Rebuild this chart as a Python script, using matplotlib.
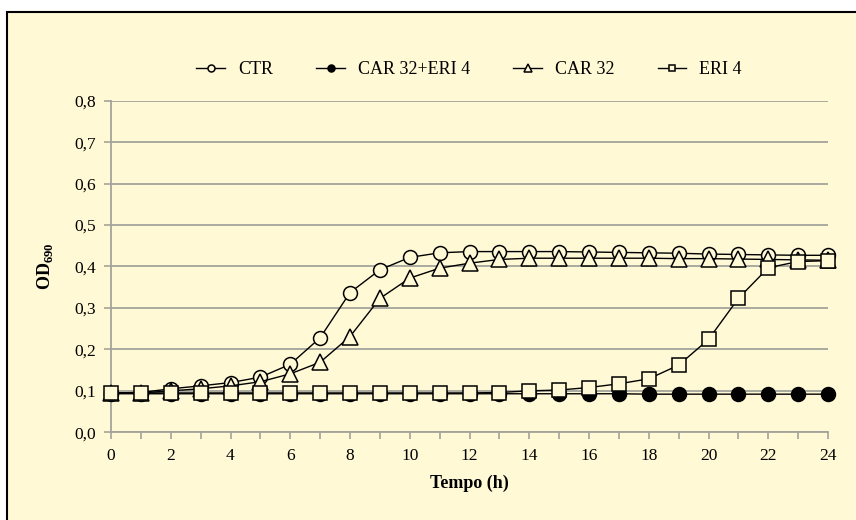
import matplotlib.pyplot as plt
from matplotlib.patches import Rectangle
import numpy as np

# growth curves, OD690 read every hour
tempo = list(range(25))
ctr = [0.095, 0.096, 0.105, 0.112, 0.120, 0.133, 0.164, 0.228, 0.337, 0.392, 0.422, 0.433,
       0.436, 0.436, 0.436, 0.436, 0.435, 0.434, 0.433, 0.432, 0.430, 0.429, 0.428, 0.427, 0.427]
car_eri = [0.093, 0.093, 0.093, 0.093, 0.093, 0.093, 0.093, 0.093, 0.093, 0.093, 0.093, 0.093,
           0.093, 0.093, 0.093, 0.093, 0.093, 0.093, 0.092, 0.092, 0.092, 0.092, 0.092, 0.092, 0.092]
car32 = [0.095, 0.095, 0.100, 0.105, 0.112, 0.122, 0.141, 0.169, 0.231, 0.323, 0.372, 0.396,
         0.408, 0.417, 0.420, 0.420, 0.420, 0.420, 0.420, 0.419, 0.419, 0.418, 0.417, 0.416, 0.415]
eri4 = [0.095, 0.095, 0.095, 0.095, 0.095, 0.095, 0.095, 0.095, 0.095, 0.095, 0.095, 0.095,
        0.095, 0.096, 0.100, 0.102, 0.108, 0.117, 0.129, 0.162, 0.224, 0.323, 0.397, 0.412, 0.414]

bg = '#FFF9D6'
grid_col = '#A3A39A'

plt.rcParams['font.family'] = ['Liberation Serif', 'DejaVu Serif']
plt.rcParams['mathtext.fontset'] = 'custom'
plt.rcParams['mathtext.bf'] = 'Liberation Serif:bold'

fig = plt.figure(figsize=(8.56, 5.2), dpi=100)
fig.patch.set_facecolor('white')
# yellow panel with black frame (top and left edges visible)
fig.patches.append(Rectangle((7 / 856, -0.1), 1.2, 1 - 11.5 / 520 + 0.1, transform=fig.transFigure,
                             facecolor=bg, edgecolor='black', linewidth=1.5, zorder=-1))

ax = fig.add_axes([111 / 856, 1 - 432.3 / 520, (828 - 111) / 856, (432.3 - 100.7) / 520])
ax.set_facecolor('none')
ax.set_zorder(2)

style = dict(color='black', lw=1, mew=1.1, zorder=3, clip_on=False)
ax.plot(tempo, ctr, '-o', ms=10, mfc=bg, label='CTR', **style)
ax.plot(tempo, car_eri, '-o', ms=10, mfc='black', label='CAR 32+ERI 4', **style)
ax.plot(tempo, car32, '-^', ms=11, mfc=bg, label='CAR 32', **style)
ax.plot(tempo, eri4, '-s', ms=9.5, mfc=bg, label='ERI 4', **style)

ax.set_xlim(0, 24)
ax.set_ylim(0, 0.8)
ax.set_xticks(range(0, 25, 2))
ax.set_xticks(range(25), minor=True)
ax.set_yticks(np.arange(0, 0.81, 0.1))
ax.set_yticklabels([f'{v:.1f}'.replace('.', ',') for v in np.arange(0, 0.81, 0.1)])
ax.yaxis.grid(True, color=grid_col, lw=1.3)
ax.set_axisbelow(True)
for s in ['top', 'right']:
    ax.spines[s].set_visible(False)
for s in ['left', 'bottom']:
    ax.spines[s].set_color(grid_col)
    ax.spines[s].set_linewidth(1.3)
ax.tick_params(axis='both', which='both', colors=grid_col, labelcolor='black', labelsize=12.5, length=5, width=1.2)
ax.tick_params(axis='y', pad=6)
ax.tick_params(axis='x', pad=6)

ax.set_xlabel('Tempo (h)', fontsize=13, fontweight='bold', labelpad=8)
ax.set_ylabel(r'OD$_{\mathbf{690}}$', fontsize=13, fontweight='bold', labelpad=14)

handles, labels = ax.get_legend_handles_labels()
leg = fig.legend(handles, labels, loc='center', bbox_to_anchor=(469 / 856, 1 - 70 / 520), ncol=4,
                 frameon=False, fontsize=13, handlelength=1.6, handletextpad=0.7,
                 columnspacing=2.4, markerscale=0.5)

fig.savefig('out.png', dpi=100, facecolor=fig.get_facecolor())
